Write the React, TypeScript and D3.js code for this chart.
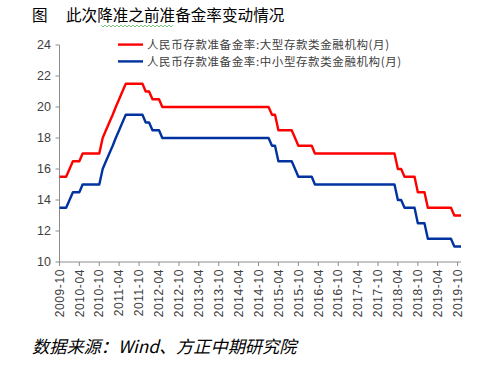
import React from "react";
import * as d3 from "d3";

// Monthly data: 2009-10 ... 2019-11
const startMonth = "2009-10";
const largeBanks: number[] = [
  15.5, 15.5, 15.5, 16.0, 16.5, 16.5, 16.5, 17.0, 17.0, 17.0, 17.0, 17.0, 17.0, // 2009-10 .. 2010-10
  18.0, 18.5, 19.0, 19.5, 20.0, 20.5, 21.0, 21.5, 21.5, 21.5, 21.5, 21.5, 21.5, // 2010-11 .. 2011-11
  21.0, 21.0, 20.5, 20.5, 20.5, 20.0, 20.0, 20.0, 20.0, 20.0, 20.0, 20.0, // 2011-12 .. 2012-11
  20.0, 20.0, 20.0, 20.0, 20.0, 20.0, 20.0, 20.0, 20.0, 20.0, 20.0, 20.0, // 2012-12 .. 2013-11
  20.0, 20.0, 20.0, 20.0, 20.0, 20.0, 20.0, 20.0, 20.0, 20.0, 20.0, 20.0, // 2013-12 .. 2014-11
  20.0, 20.0, 19.5, 19.5, 18.5, 18.5, 18.5, 18.5, 18.5, 18.0, 17.5, 17.5, // 2014-12 .. 2015-11
  17.5, 17.5, 17.5, 17.0, 17.0, 17.0, 17.0, 17.0, 17.0, 17.0, 17.0, 17.0, // 2015-12 .. 2016-11
  17.0, 17.0, 17.0, 17.0, 17.0, 17.0, 17.0, 17.0, 17.0, 17.0, 17.0, 17.0, // 2016-12 .. 2017-11
  17.0, 17.0, 17.0, 17.0, 16.0, 16.0, 15.5, 15.5, 15.5, 15.5, 14.5, 14.5, // 2017-12 .. 2018-11
  14.5, 13.5, 13.5, 13.5, 13.5, 13.5, 13.5, 13.5, 13.5, 13.0, 13.0, 13.0, // 2018-12 .. 2019-11
];
const smallBanks: number[] = [
  13.5, 13.5, 13.5, 14.0, 14.5, 14.5, 14.5, 15.0, 15.0, 15.0, 15.0, 15.0, 15.0,
  16.0, 16.5, 17.0, 17.5, 18.0, 18.5, 19.0, 19.5, 19.5, 19.5, 19.5, 19.5, 19.5,
  19.0, 19.0, 18.5, 18.5, 18.5, 18.0, 18.0, 18.0, 18.0, 18.0, 18.0, 18.0,
  18.0, 18.0, 18.0, 18.0, 18.0, 18.0, 18.0, 18.0, 18.0, 18.0, 18.0, 18.0,
  18.0, 18.0, 18.0, 18.0, 18.0, 18.0, 18.0, 18.0, 18.0, 18.0, 18.0, 18.0,
  18.0, 18.0, 17.5, 17.5, 16.5, 16.5, 16.5, 16.5, 16.5, 16.0, 15.5, 15.5,
  15.5, 15.5, 15.5, 15.0, 15.0, 15.0, 15.0, 15.0, 15.0, 15.0, 15.0, 15.0,
  15.0, 15.0, 15.0, 15.0, 15.0, 15.0, 15.0, 15.0, 15.0, 15.0, 15.0, 15.0,
  15.0, 15.0, 15.0, 15.0, 14.0, 14.0, 13.5, 13.5, 13.5, 13.5, 12.5, 12.5,
  12.5, 11.5, 11.5, 11.5, 11.5, 11.5, 11.5, 11.5, 11.5, 11.0, 11.0, 11.0,
];
const seriesNames = [
  "人民币存款准备金率:大型存款类金融机构(月)",
  "人民币存款准备金率:中小型存款类金融机构(月)",
];
const seriesColors = ["#FF0000", "#0033A0"];
const yTicks = [10, 12, 14, 16, 18, 20, 22, 24];
const xTickLabels = [
  "2009-10", "2010-04", "2010-10", "2011-04", "2011-10", "2012-04", "2012-10",
  "2013-04", "2013-10", "2014-04", "2014-10", "2015-04", "2015-10", "2016-04",
  "2016-10", "2017-04", "2017-10", "2018-04", "2018-10", "2019-04", "2019-10",
];
const titleLabel = "图";
const titleText = "此次降准之前准备金率变动情况";
const sourceText = "数据来源：Wind、方正中期研究院";

const parseMonth = d3.utcParse("%Y-%m");

export default function App() {
  const W = 488, H = 377;
  const start = parseMonth(startMonth)!;
  const dates = largeBanks.map((_, i) => d3.utcMonth.offset(start, i));
  const x = d3.scaleUtc().domain([dates[0], dates[dates.length - 1]]).range([59.5, 461]);
  const y = d3.scaleLinear().domain([10, 24]).range([262, 45]);
  const line = d3
    .line<number>()
    .x((_, i) => x(dates[i]))
    .y((v) => y(v));
  const series = [largeBanks, smallBanks];
  const axisColor = "#8C8C8C";
  const textColor = "#404040";
  const x0 = x.range()[0];
  const xTickDates = xTickLabels.map((s) => parseMonth(s)!);

  // squiggle under part of title
  const sq: string[] = [];
  for (let px = 101; px <= 173; px += 2) {
    sq.push(`${px},${(px - 101) % 4 === 0 ? 25 : 27}`);
  }

  return (
    <svg
      width={W}
      height={H}
      style={{ position: "absolute", left: 0, top: 0, background: "#fff" }}
    >
      <rect width={W} height={H} fill="#fff" />
      {/* title */}
      <text x={32} y={21} fontFamily="'Noto Sans CJK SC'" fontSize={15.6} fill="#000">
        {titleLabel}
      </text>
      <text x={66} y={21} fontFamily="'Noto Sans CJK SC'" fontSize={15.6} fill="#000">
        {titleText}
      </text>
      <polyline points={sq.join(" ")} fill="none" stroke="#5CB85C" strokeWidth={0.8} />

      {/* y axis */}
      <line x1={x0} x2={x0} y1={y(24)} y2={y(10)} stroke={axisColor} strokeWidth={1} />
      {yTicks.map((t) => (
        <g key={t}>
          <line x1={x0 - 4} x2={x0} y1={y(t)} y2={y(t)} stroke={axisColor} />
          <text
            x={51}
            y={y(t)}
            dy="0.35em"
            textAnchor="end"
            fontFamily="'Liberation Sans', Arial"
            fontSize={12.5}
            fill={textColor}
          >
            {t}
          </text>
        </g>
      ))}

      {/* x axis */}
      <line x1={x0} x2={x.range()[1]} y1={y(10)} y2={y(10)} stroke={axisColor} strokeWidth={1} />
      {xTickDates.map((d, i) => (
        <g key={i} transform={`translate(${x(d)},${y(10)})`}>
          <line y1={0} y2={4} stroke={axisColor} />
          <text
            transform="translate(0,7) rotate(-90)"
            textAnchor="end"
            dy="0.35em"
            fontFamily="'Liberation Sans', Arial"
            fontSize={12}
            letterSpacing={0.6}
            fill={textColor}
          >
            {xTickLabels[i]}
          </text>
        </g>
      ))}

      {/* lines */}
      {series.map((s, i) => (
        <path
          key={i}
          d={line(s) || ""}
          fill="none"
          stroke={seriesColors[i]}
          strokeWidth={2.4}
          strokeLinejoin="round"
        />
      ))}

      {/* legend */}
      {seriesNames.map((n, i) => (
        <g key={i} transform={`translate(118,${44.6 + i * 16.8})`}>
          <line x1={0} x2={25} y1={0} y2={0} stroke={seriesColors[i]} strokeWidth={2.4} />
          <text
            x={29}
            y={0}
            dy="0.36em"
            fontFamily="'Noto Sans CJK SC'"
            fontSize={11.5}
            letterSpacing={0.6}
            fill={textColor}
          >
            {n}
          </text>
        </g>
      ))}

      {/* source */}
      <text
        x={32}
        y={353}
        fontFamily="'Noto Sans CJK SC'"
        fontSize={17.2}
        fontStyle="italic"
        fill="#000"
      >
        {sourceText}
      </text>
    </svg>
  );
}
